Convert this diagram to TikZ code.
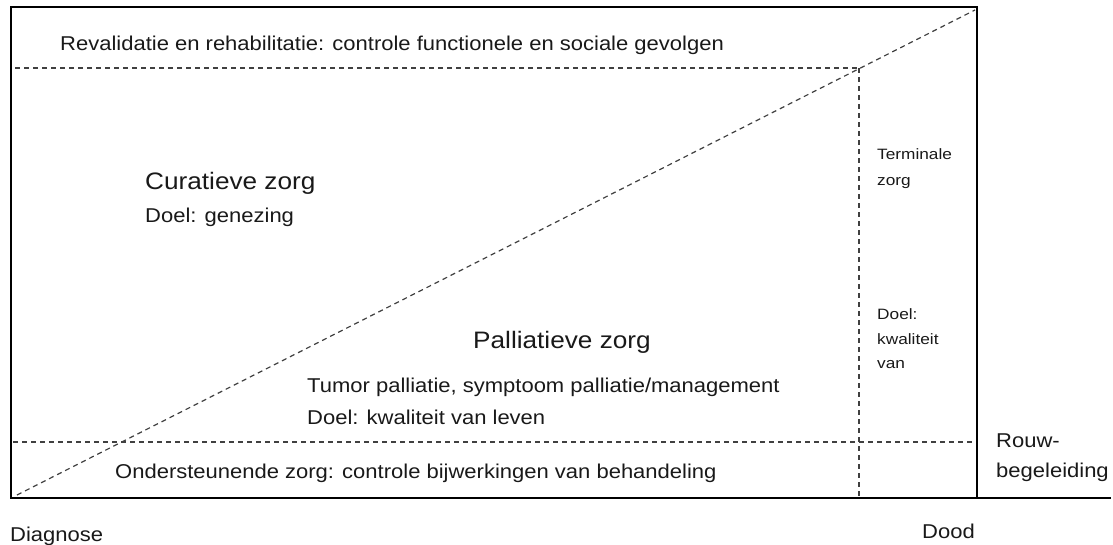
\documentclass[tikz,border=0pt]{standalone}
\usepackage{fontspec}
\setmainfont{Liberation Sans}
\newfontfamily\widesans[FakeStretch=1.1]{Liberation Sans}
\newfontfamily\widersans[FakeStretch=1.15]{Liberation Sans}
\begin{document}
\begin{tikzpicture}[x=1pt,y=-1pt,
  frame/.style={line width=2.4pt,black},
  guide/.style={line width=1.2pt,dash pattern=on 5pt off 4pt,black!75},
  lbl/.style={anchor=base west,inner sep=0pt,text=black!90},
  big/.style={lbl,font=\widesans\fontsize{23.8}{28}\selectfont},
  mid/.style={lbl,font=\widesans\fontsize{20}{24}\selectfont},
  small/.style={lbl,font=\widersans\fontsize{15}{18}\selectfont}]
\useasboundingbox (0,0) rectangle (1113,544);

% corner points of the frame and the guide lines
\coordinate (tl) at (11,7);
\coordinate (br) at (977,498);
\coordinate (tailend) at (1111,498);
\coordinate (diagA) at (17,495);
\coordinate (diagB) at (975,10);
\coordinate (topL) at (15,68);
\coordinate (corner) at (859,68);
\coordinate (cornerB) at (859,496);
\coordinate (lowL) at (13,442);
\coordinate (lowR) at (975,442);

% guide lines
\draw[guide] (topL) -- (corner);
\draw[guide] (corner) -- (cornerB);
\draw[guide] (lowL) -- (lowR);
\draw[guide] (diagA) -- (diagB);

% frame and time axis
\draw[frame] (tl) rectangle (br);
\draw[line width=2pt] (br) -- (tailend);

% labels
\node[mid] (reval) at (60,50) {Revalidatie en rehabilitatie: controle functionele en sociale gevolgen};
\node[big] (cur) at (145,189) {Curatieve zorg};
\node[mid] (curdoel) at (145,222) {Doel: genezing};
\node[big] (pal) at (473,348) {Palliatieve zorg};
\node[mid] (paltxt) at (307,392) {Tumor palliatie, symptoom palliatie/management};
\node[mid] (paldoel) at (307,424) {Doel: kwaliteit van leven};
\node[mid] (onder) at (115,478) {Ondersteunende zorg: controle bijwerkingen van behandeling};
\node[small] (term1) at (877,159) {Terminale};
\node[small] (term2) at (877,185) {zorg};
\node[small] (tdoel1) at (877,319) {Doel:};
\node[small] (tdoel2) at (877,344) {kwaliteit};
\node[small] (tdoel3) at (877,368) {van};
\node[mid] (rouw1) at (996,447) {Rouw-};
\node[mid] (rouw2) at (996,477) {begeleiding};
\node[mid] (diag) at (10,541) {Diagnose};
\node[mid] (dood) at (922,538) {Dood};
\end{tikzpicture}
\end{document}
